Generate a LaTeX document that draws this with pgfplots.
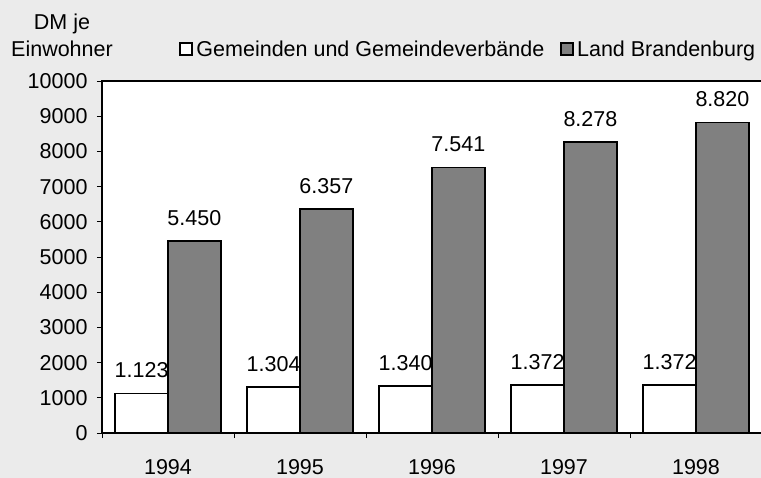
\documentclass[border=0pt]{standalone}
\usepackage{fontspec}
\setmainfont{Liberation Sans}
\usepackage{pgfplots}
\pgfplotsset{compat=1.18}
\definecolor{bgc}{RGB}{235,235,235}
\definecolor{barg}{RGB}{128,128,128}
\begin{document}
\begin{tikzpicture}
\fill[bgc] (0,0) rectangle (761bp,-478bp);
\begin{axis}[
  at={(102bp,-433bp)}, anchor=south west,
  scale only axis, width=660bp, height=352bp,
  font=\fontsize{21.5bp}{25bp}\selectfont,
  /pgf/number format/assume math mode=true,
  axis background/.style={fill=white},
  axis line style={line width=1.8bp},
  ybar=0pt, bar width=0.4,
  xmin=-0.5, xmax=4.5, ymin=0, ymax=10000,
  scaled y ticks=false,
  xtick={0,1,2,3,4}, xticklabels={1994,1995,1996,1997,1998},
  major x tick style={draw=none},
  minor xtick={-0.5,0.5,1.5,2.5,3.5,4.5},
  minor tick length=5bp, major tick length=5bp,
  tick align=outside, xtick pos=bottom, ytick pos=left,
  tick style={line width=1bp, black},
  ytick={0,1000,...,10000},
  yticklabel style={/pgf/number format/1000 sep={}, xshift=-6bp},
  xticklabel style={yshift=-18bp},
  nodes near coords,
  every node near coord/.append style={anchor=south, inner sep=0pt, yshift=14.5bp,
     /pgf/number format/1000 sep={.}, font=\fontsize{21.5bp}{25bp}\selectfont},
  legend columns=-1,
  legend style={at={(77bp,384bp)}, anchor=west, draw=none, fill=none,
     inner sep=0pt, font=\fontsize{21.5bp}{25bp}\selectfont,
     nodes={inner sep=0.5bp},
     /tikz/every odd column/.append style={column sep=3bp},
     /tikz/every even column/.append style={column sep=15bp}},
  legend image code/.code={\draw[#1, line width=1.8bp] (0bp,-6bp) rectangle (12bp,6bp);},
]
\addplot[draw=black, fill=white, line width=1.8bp] coordinates {(0,1123) (1,1304) (2,1340) (3,1372) (4,1372)};
\addplot[draw=black, fill=barg, line width=1.8bp] coordinates {(0,5450) (1,6357) (2,7541) (3,8278) (4,8820)};
\legend{Gemeinden und Gemeindeverbände, Land Brandenburg}
\end{axis}
\node[align=center, font=\fontsize{21.5bp}{27bp}\selectfont, anchor=center] at (62bp,-35bp) {DM je\\Einwohner};
\pgfresetboundingbox
\path[use as bounding box] (0,0) rectangle (761bp,-478bp);
\end{tikzpicture}
\end{document}
